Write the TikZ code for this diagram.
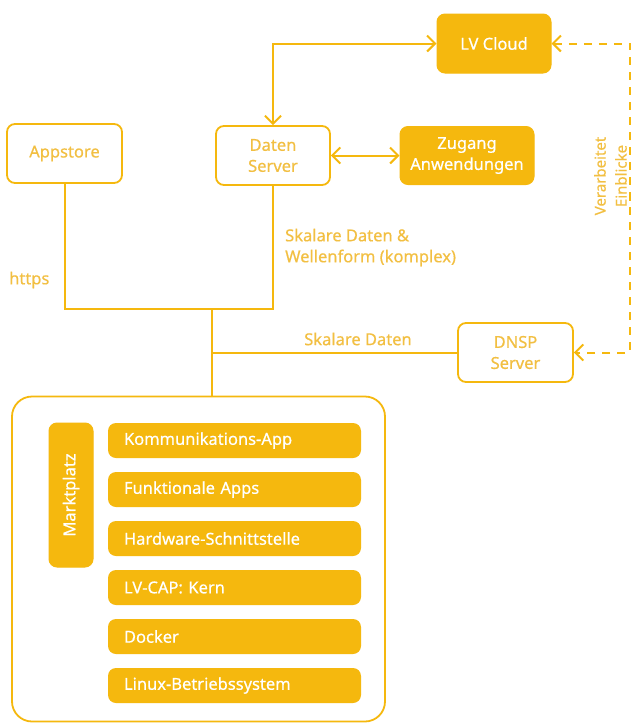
\documentclass[tikz,border=0pt]{standalone}
\usepackage{fontspec}
\setmainfont{Noto Sans}[FakeBold=0.5]
\usetikzlibrary{arrows.meta}
\definecolor{gold}{HTML}{F5B80E}
\definecolor{goldtxt}{HTML}{F2BF42}
\begin{document}
\begin{tikzpicture}[x=1pt,y=-1pt,
  font=\fontsize{16.5}{21}\selectfont,
  filled/.style={fill=gold, draw=gold, line width=1pt, rounded corners=8pt, text=white, align=center, inner sep=0pt},
  hollow/.style={fill=white, draw=gold, line width=1.8pt, rounded corners=8pt, text=goldtxt, align=center, inner sep=0pt},
  layerbox/.style={fill=gold, rounded corners=8pt, text=white, minimum width=253pt, minimum height=35pt, text width=221pt, inner xsep=16pt, inner ysep=0pt, align=left},
  conn/.style={draw=gold, line width=2pt},
  tip/.style={{Straight Barb[length=8pt,width=16pt,line width=2pt]}-{Straight Barb[length=8pt,width=16pt,line width=2pt]}},
  lbl/.style={text=goldtxt, inner sep=0pt}]
\useasboundingbox (0,0) rectangle (632,724);
% nodes
\node[filled, minimum width=114pt, minimum height=59pt] (cloud) at (494,43.5) {LV Cloud};
\node[filled, minimum width=134pt, minimum height=58pt] (zug) at (467,155.5) {Zugang\\Anwendungen};
\node[hollow, minimum width=114pt, minimum height=59pt] (dat) at (273,155.5) {Daten\\Server};
\node[hollow, minimum width=115pt, minimum height=59pt] (app) at (64.5,153.5) {Appstore};
\node[hollow, minimum width=115pt, minimum height=59pt] (dnsp) at (515.5,352.5) {DNSP\\Server};
\node[draw=gold, line width=1.8pt, fill=white, rounded corners=20pt, minimum width=373pt, minimum height=325pt, inner sep=0pt] (cont) at (198.5,559) {};
\node[filled, rotate=90, minimum width=144pt, minimum height=44pt] (markt) at (71,495) {Marktplatz};
\node[layerbox] (l1) at (234.5,440.5) {Kommunikations-App};
\node[layerbox] (l2) at (234.5,489.5) {Funktionale Apps};
\node[layerbox] (l3) at (234.5,538.5) {Hardware-Schnittstelle};
\node[layerbox] (l4) at (234.5,587.5) {LV-CAP: Kern};
\node[layerbox] (l5) at (234.5,636.5) {Docker};
\node[layerbox] (l6) at (234.5,685.5) {Linux-Betriebssystem};
% labels
\node[lbl, anchor=west] (https) at (9,280) {https};
\node[lbl, anchor=west, align=left] (skw) at (285,247.5) {Skalare Daten \&\\Wellenform (komplex)};
\node[lbl] (sk) at (358,339) {Skalare Daten};
\node[lbl, rotate=90, align=center, font=\fontsize{15}{21}\selectfont] (ve) at (610.5,176) {Verarbeitet\\Einblicke};
% coordinates
\coordinate (j1) at (212,309);
\coordinate (dr) at (630,200);
% connectors
\draw[conn, tip] (dat.north) |- (cloud.west);
\draw[conn, tip] (dat.east) -- (zug.west);
\draw[conn] (app.south) |- (j1) -| (dat.south);
\draw[conn] (j1) -- (j1 |- cont.north);
\draw[conn] (dnsp.west) -- (dnsp.west -| j1);
\draw[conn, tip, dash pattern=on 8pt off 7pt] (cloud.east) -| (dr) |- (dnsp.east);
\end{tikzpicture}
\end{document}
